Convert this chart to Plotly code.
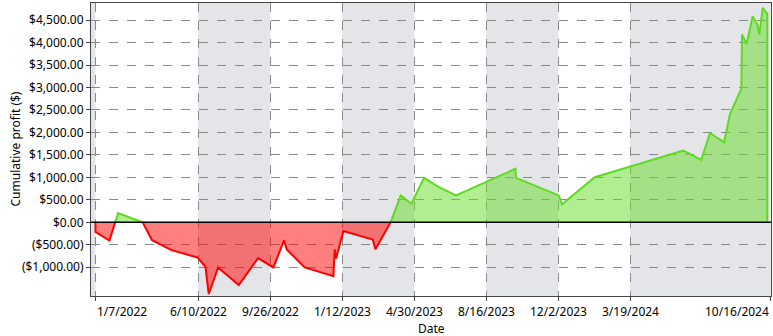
import pandas as pd
import plotly.graph_objects as go

# ---- data ----
dates = ["2022-01-07", "2022-01-28", "2022-02-10", "2022-03-19", "2022-04-02", "2022-05-01",
         "2022-06-09", "2022-06-21", "2022-06-26", "2022-07-10", "2022-08-10", "2022-09-08",
         "2022-10-01", "2022-10-17", "2022-10-21", "2022-11-17", "2022-12-30", "2023-01-01",
         "2023-01-03", "2023-01-14", "2023-02-27", "2023-03-03", "2023-03-26", "2023-04-10",
         "2023-04-26", "2023-05-15", "2023-06-04", "2023-07-02", "2023-09-29", "2023-09-30",
         "2023-12-03", "2023-12-08", "2024-01-26", "2024-06-07", "2024-07-04", "2024-07-17",
         "2024-08-07", "2024-08-16", "2024-09-02", "2024-09-03", "2024-09-10", "2024-09-19",
         "2024-09-26", "2024-09-29", "2024-10-04", "2024-10-11"]
profit = [-215, -405, 206, -5, -399, -620,
          -782, -990, -1596, -1004, -1396, -798,
          -1004, -399, -605, -1004, -1197, -605,
          -805, -193, -384, -598, 5, 598,
          414, 990, 798, 598, 1190, 990,
          598, 399, 1004, 1596, 1390, 1988,
          1780, 2409, 2975, 4182, 3974, 4588,
          4404, 4182, 4772, 4638]

x_tick_dates = ["2022-01-07", "2022-06-10", "2022-09-26", "2023-01-12", "2023-04-30",
                "2023-08-16", "2023-12-02", "2024-03-19", "2024-10-16"]
x_tick_text = ["1/7/2022", "6/10/2022", "9/26/2022", "1/12/2023", "4/30/2023",
               "8/16/2023", "12/2/2023", "3/19/2024", "10/16/2024"]
y_tick_vals = [-1000, -500, 0, 500, 1000, 1500, 2000, 2500, 3000, 3500, 4000, 4500]

x_range = ["2021-12-31 08:00", "2024-10-16 12:00"]
y_range = [-1640, 4880]

POS_LINE = "rgb(94,218,35)"
POS_FILL = "rgba(100,222,35,0.5)"
NEG_LINE = "rgb(255,0,0)"
NEG_FILL = "rgba(255,0,0,0.5)"
BAND = "#E4E5E8"
GRID = "#8A8A8A"
FONT = "Segoe UI, Noto Sans, Open Sans, sans-serif"
FS = 12


def ytxt(v):
    s = "${:,.2f}".format(abs(v))
    return "(" + s + ")" if v < 0 else s


# ---- split the series into sign runs (fill to zero) ----
t = pd.to_datetime(pd.Series(dates)).astype("int64").tolist()
runs = []
cur = [(t[0], 0.0), (t[0], profit[0])]
for i in range(1, len(t)):
    a, b = profit[i - 1], profit[i]
    if (a > 0) != (b > 0) and a != 0 and b != 0:
        tc = t[i - 1] + (t[i] - t[i - 1]) * (a / (a - b))
        cur.append((tc, 0.0))
        runs.append((a > 0, cur))
        cur = [(tc, 0.0)]
    cur.append((t[i], profit[i]))
cur.append((t[-1], 0.0))
runs.append((profit[-1] > 0, cur))

fig = go.Figure()
for pos, pts in runs:
    xs = pd.to_datetime([p[0] for p in pts])
    ys = [p[1] for p in pts]
    fig.add_trace(go.Scatter(
        x=xs, y=ys, mode="lines", fill="toself",
        fillcolor=POS_FILL if pos else NEG_FILL,
        line=dict(color=POS_LINE if pos else NEG_LINE, width=2),
        hoverinfo="skip", showlegend=False))

# alternating bands
bounds = [x_range[0]] + x_tick_dates
shapes = []
for k in range(0, len(bounds) - 1, 2):
    shapes.append(dict(type="rect", xref="x", yref="paper", x0=bounds[k], x1=bounds[k + 1],
                       y0=0, y1=1, fillcolor=BAND, line=dict(width=0), layer="below"))
# zero line on top
shapes.append(dict(type="line", xref="paper", yref="y", x0=0, x1=1, y0=0, y1=0,
                   line=dict(color="black", width=1.5), layer="above"))

annotations = []
n = len(x_tick_dates)
for i, (d, txt) in enumerate(zip(x_tick_dates, x_tick_text)):
    anchor = "left" if i == 0 else ("right" if i == n - 1 else "center")
    annotations.append(dict(x=d, y=0, xref="x", yref="paper", text=txt, showarrow=False,
                            xanchor=anchor, yanchor="top", yshift=-5,
                            font=dict(family=FONT, size=FS, color="black")))
annotations.append(dict(x=0.5, y=0, xref="paper", yref="paper", text="Date", showarrow=False,
                        xanchor="center", yanchor="top", yshift=-22,
                        font=dict(family=FONT, size=FS, color="black")))
annotations.append(dict(x=0, y=0.5, xref="paper", yref="paper", text="Cumulative profit ($)",
                        showarrow=False, textangle=-90, xanchor="center", yanchor="middle",
                        xshift=-76, font=dict(family=FONT, size=FS, color="black")))

fig.update_layout(
    width=773, height=336,
    margin=dict(l=91, r=2, t=3, b=40),
    paper_bgcolor="white", plot_bgcolor="white",
    shapes=shapes, annotations=annotations,
    font=dict(family=FONT, size=FS, color="black"),
    xaxis=dict(type="date", range=x_range, tickvals=x_tick_dates, showticklabels=False,
               ticks="outside", ticklen=4, tickcolor="#444",
               showgrid=True, gridcolor=GRID, griddash="dash", gridwidth=1,
               showline=True, linecolor="#444", linewidth=1, mirror=True, zeroline=False),
    yaxis=dict(range=y_range, tickvals=y_tick_vals, ticktext=[ytxt(v) for v in y_tick_vals],
               ticks="outside", ticklen=4, tickcolor="#444",
               tickfont=dict(family=FONT, size=FS),
               showgrid=True, gridcolor=GRID, griddash="dash", gridwidth=1,
               showline=True, linecolor="#444", linewidth=1, mirror=True, zeroline=False),
)

fig.write_html("out.html")
